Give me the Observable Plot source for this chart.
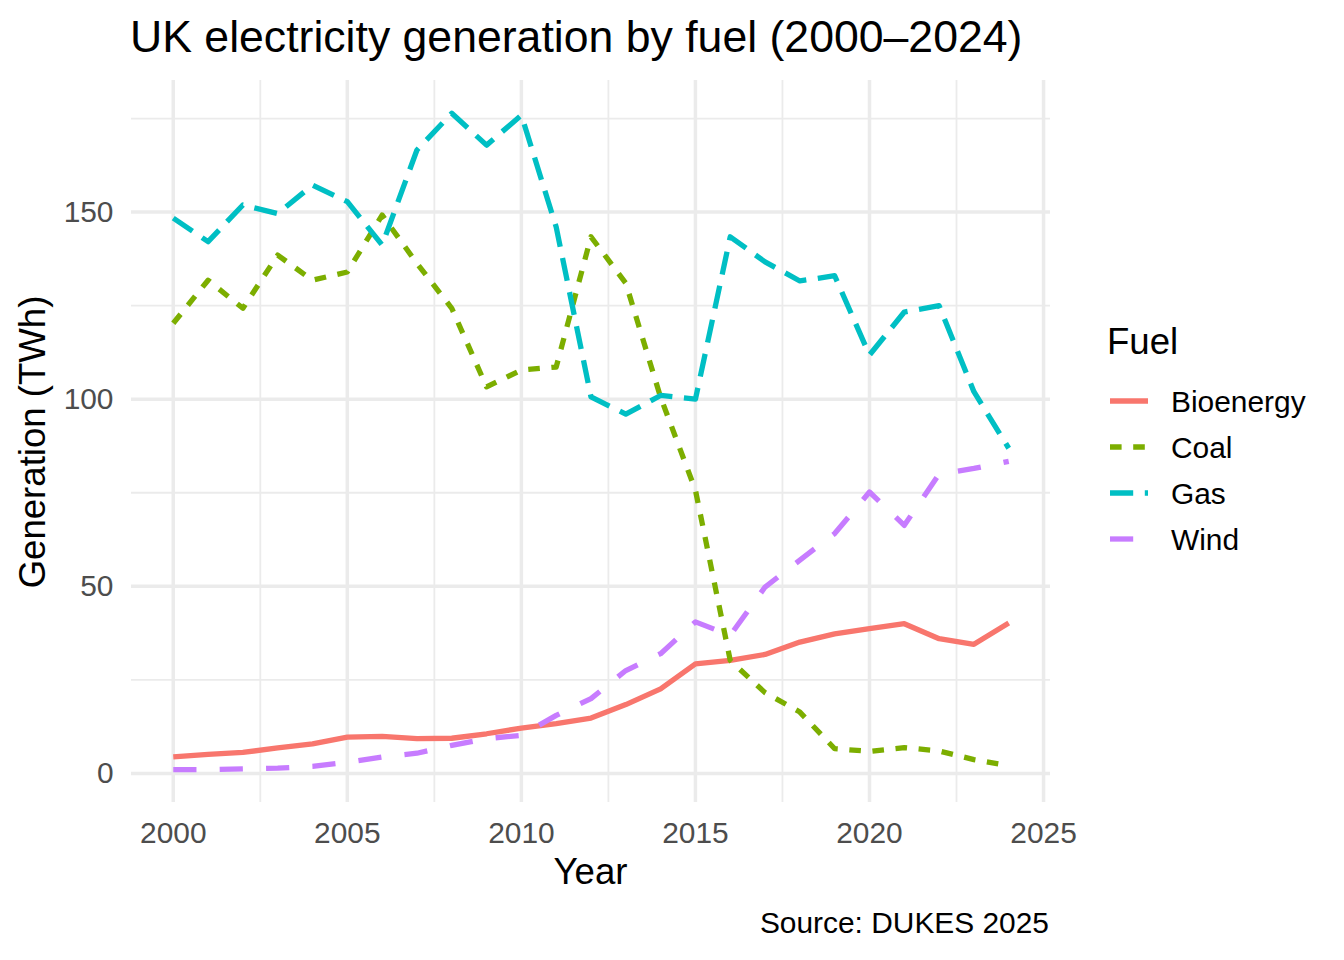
<!DOCTYPE html>
<html>
<head>
<meta charset="utf-8">
<script src="https://cdn.jsdelivr.net/npm/d3@7"></script>
<script src="https://cdn.jsdelivr.net/npm/@observablehq/plot@0.6"></script>
<style>
  html, body { margin: 0; padding: 0; background: #ffffff; }
  #chart { position: relative; width: 1344px; height: 960px; font-family: "Liberation Sans", Arial, Helvetica, sans-serif; }
  #chart svg { position: absolute; left: 0; top: 0; }
</style>
</head>
<body>
<div id="chart"></div>
<script>
// UK electricity generation by fuel, TWh
const years = [2000, 2001, 2002, 2003, 2004, 2005, 2006, 2007, 2008, 2009, 2010, 2011, 2012,
               2013, 2014, 2015, 2016, 2017, 2018, 2019, 2020, 2021, 2022, 2023, 2024];
const fuels = ["Bioenergy", "Coal", "Gas", "Wind"];

const bioenergy = [4.4, 5.1, 5.6, 6.8, 7.9, 9.7, 9.9, 9.3, 9.4, 10.6, 12.1, 13.3, 14.8,
                   18.4, 22.6, 29.3, 30.2, 31.8, 35.1, 37.3, 38.7, 40.0, 36.0, 34.5, 40.2];
const coal      = [120.3, 131.8, 124.3, 138.5, 131.8, 134.0, 149.2, 136.3, 124.3, 103.3, 107.8, 108.6, 143.4,
                   131.0, 100.5, 75.7, 30.2, 21.6, 16.4, 6.6, 5.9, 6.9, 6.0, 3.7, 2.1];
const gas       = [148.4, 142.1, 151.9, 149.6, 157.2, 152.8, 141.2, 166.6, 176.4, 167.9, 175.9, 146.0, 100.6,
                   96.0, 101.0, 100.0, 143.4, 136.7, 131.6, 133.0, 111.8, 123.3, 125.0, 102.0, 86.9];
const wind      = [1.0, 1.0, 1.2, 1.4, 1.9, 3.0, 4.4, 5.4, 7.5, 9.3, 10.2, 15.5, 20.0,
                   27.5, 32.0, 40.5, 36.9, 49.8, 57.0, 64.1, 75.2, 66.3, 80.0, 81.5, 83.4];

const xMajor = [2000, 2005, 2010, 2015, 2020, 2025];
const xMinor = [2002.5, 2007.5, 2012.5, 2017.5, 2022.5];
const yMajor = [0, 50, 100, 150];
const yMinor = [25, 75, 125, 175];

const title = "UK electricity generation by fuel (2000–2024)";
const xTitle = "Year";
const yTitle = "Generation (TWh)";
const legendTitle = "Fuel";
const caption = "Source: DUKES 2025";

// Styling per fuel (hue palette and line types)
const u = 5.8;
const style = {
  Bioenergy: { stroke: "#F8766D", dash: null },
  Coal:      { stroke: "#7CAE00", dash: `${2 * u},${2 * u}` },
  Gas:       { stroke: "#00BFC4", dash: `${4 * u},${2 * u}` },
  Wind:      { stroke: "#C77CFF", dash: `${4 * u},${4 * u}` }
};
const lineWidth = 5.3;

const series = { Bioenergy: bioenergy, Coal: coal, Gas: gas, Wind: wind };
const rows = fuels.flatMap(f => years.map((year, i) => ({ fuel: f, year, value: series[f][i] })));

// 5% expansion around the data range on both axes
const [xmin, xmax] = d3.extent(years);
const [ymin, ymax] = d3.extent(rows, d => d.value);
const xPad = (xmax - xmin) * 0.05, yPad = (ymax - ymin) * 0.05;

const W = 1344, H = 960;
const M = { top: 80, right: 294, bottom: 158, left: 131 };
const font = '"Liberation Sans", Arial, Helvetica, sans-serif';
const gridColor = "#EBEBEB";
const tickSize = 29.9, axisTitleSize = 36.6, titleSize = 44.6;

const plot = Plot.plot({
  width: W,
  height: H,
  marginTop: M.top,
  marginRight: M.right,
  marginBottom: M.bottom,
  marginLeft: M.left,
  style: { fontFamily: font, background: "transparent", overflow: "visible" },
  x: { domain: [xmin - xPad, xmax + xPad] },
  y: { domain: [ymin - yPad, ymax + yPad] },
  marks: [
    Plot.gridX(xMinor, { stroke: gridColor, strokeOpacity: 1, strokeWidth: 1.8 }),
    Plot.gridY(yMinor, { stroke: gridColor, strokeOpacity: 1, strokeWidth: 1.8 }),
    Plot.gridX(xMajor, { stroke: gridColor, strokeOpacity: 1, strokeWidth: 3.5 }),
    Plot.gridY(yMajor, { stroke: gridColor, strokeOpacity: 1, strokeWidth: 3.5 }),
    Plot.axisX(xMajor, {
      tickSize: 0, tickPadding: 19, fontSize: tickSize, color: "#4D4D4D",
      label: null, tickFormat: d => String(d)
    }),
    Plot.axisY(yMajor, {
      tickSize: 0, tickPadding: 18, fontSize: tickSize, color: "#4D4D4D",
      label: null, tickFormat: d => String(d)
    }),
    ...fuels.map(f => Plot.line(rows.filter(d => d.fuel === f), {
      x: "year",
      y: "value",
      stroke: style[f].stroke,
      strokeWidth: lineWidth,
      strokeDasharray: style[f].dash,
      strokeLinecap: "butt",
      strokeLinejoin: "round"
    }))
  ]
});

const chart = document.getElementById("chart");
chart.appendChild(plot);

// Titles, caption and legend
const over = d3.select(chart).append("svg")
  .attr("width", W).attr("height", H)
  .style("font-family", font);

over.append("text")
  .attr("x", 130).attr("y", 52)
  .attr("font-size", titleSize).attr("fill", "#000")
  .text(title);

over.append("text")
  .attr("x", (M.left + W - M.right) / 2).attr("y", 884)
  .attr("text-anchor", "middle")
  .attr("font-size", axisTitleSize).attr("fill", "#000")
  .text(xTitle);

over.append("text")
  .attr("transform", `translate(45,${(M.top + H - M.bottom) / 2 + 1}) rotate(-90)`)
  .attr("text-anchor", "middle")
  .attr("font-size", axisTitleSize).attr("fill", "#000")
  .text(yTitle);

over.append("text")
  .attr("x", W - M.right - 1).attr("y", 933)
  .attr("text-anchor", "end")
  .attr("font-size", tickSize).attr("fill", "#000")
  .text(caption);

const legend = over.append("g");
legend.append("text")
  .attr("x", 1107).attr("y", 354)
  .attr("font-size", axisTitleSize).attr("fill", "#000")
  .text(legendTitle);

fuels.forEach((f, i) => {
  const cy = 401 + i * 46;
  legend.append("line")
    .attr("x1", 1110).attr("x2", 1148)
    .attr("y1", cy).attr("y2", cy)
    .attr("stroke", style[f].stroke)
    .attr("stroke-width", lineWidth)
    .attr("stroke-dasharray", style[f].dash)
    .attr("stroke-linecap", "butt");
  legend.append("text")
    .attr("x", 1171).attr("y", cy + 10.5)
    .attr("font-size", tickSize).attr("fill", "#000")
    .text(f);
});
</script>
</body>
</html>
